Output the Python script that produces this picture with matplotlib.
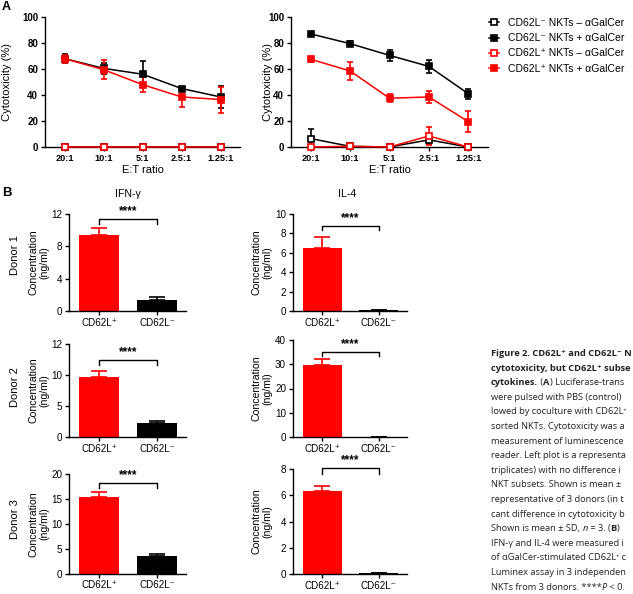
import numpy as np
import matplotlib.pyplot as plt
from matplotlib import font_manager

plt.rcParams['font.family'] = ['Liberation Sans', 'DejaVu Sans']

W, H = 633, 594
RED = '#ff0000'

# narrow face for the bar chart tick labels if it is there
try:
    font_manager.findfont('Liberation Sans Narrow', fallback_to_default=False)
    TICK_FAMILY, TICK_SIZE = ['Liberation Sans Narrow', 'DejaVu Sans'], 7.7
except ValueError:
    TICK_FAMILY, TICK_SIZE = ['Liberation Sans', 'DejaVu Sans'], 7.1

# ---- panel A: cytotoxicity vs E:T ratio
ratios = ['20:1', '10:1', '5:1', '2.5:1', '1.25:1']
series_labels = ['CD62L⁻ NKTs – αGalCer', 'CD62L⁻ NKTs + αGalCer',
                 'CD62L⁺ NKTs – αGalCer', 'CD62L⁺ NKTs + αGalCer']

# left plot (representative donor)
left_neg_ctrl = [0, 0, 0, 0, 0]
left_neg_ctrl_err = [0, 0, 0, 0, 0]
left_neg_agc = [68, 60.5, 56, 45, 38.5]
left_neg_agc_err = [3.5, 4, 10, 1.5, 8.5]
left_pos_ctrl = [0, 0, 0, 0, 0]
left_pos_ctrl_err = [0, 0, 0, 0, 0]
left_pos_agc = [68, 59.5, 48, 38.5, 36.5]
left_pos_agc_err = [3, 7.5, 6, 7.5, 10]

# right plot
right_neg_ctrl = [6.5, 0.5, 0, 5.5, 0]
right_neg_ctrl_err = [7, 0.5, 0, 3, 0]
right_neg_agc = [87, 79.5, 70.5, 62, 41]
right_neg_agc_err = [1, 2, 4, 5, 4]
right_pos_ctrl = [0, 0.5, 0, 8.5, 0]
right_pos_ctrl_err = [0, 0.5, 0, 7, 0]
right_pos_agc = [67.5, 58.5, 37.5, 38.5, 19.5]
right_pos_agc_err = [2, 7, 3, 4.5, 8]

# ---- panel B: cytokines
donors = ['Donor 1', 'Donor 2', 'Donor 3']
bar_labels = ['CD62L⁺', 'CD62L⁻']
ifng_means = [[9.4, 1.3], [9.7, 2.3], [15.4, 3.6]]
ifng_err = [[0.85, 0.4], [0.9, 0.3], [1.0, 0.25]]
il4_means = [[6.5, 0.08], [29.7, 0.15], [6.3, 0.05]]
il4_err = [[1.1, 0.03], [2.3, 0.05], [0.4, 0.02]]
ifng_ticks = [[0, 4, 8, 12], [0, 5, 10, 15], [0, 5, 10, 15, 20]]
ifng_ticklabels = [['0', '4', '8', '12'], ['0', '5', '10', '12'], ['0', '5', '10', '15', '20']]
il4_ticks = [[0, 2, 4, 6, 8, 10], [0, 10, 20, 30, 40], [0, 2, 4, 6, 8]]
ifng_sig = [11.4, 12.4, 18.2]
il4_sig = [8.8, 35.2, 8.05]

fig = plt.figure(figsize=(W / 100, H / 100), dpi=100)


def px_axes(x0, y_top, x1, y_bot):
    return fig.add_axes([x0 / W, 1 - y_bot / H, (x1 - x0) / W, (y_bot - y_top) / H])


def style(ax, size):
    for s in ['top', 'right']:
        ax.spines[s].set_visible(False)
    for s in ['left', 'bottom']:
        ax.spines[s].set_linewidth(1.0)
    ax.tick_params(length=3, width=1, labelsize=size, pad=2)


def cyto_panel(ax, data, label_x):
    x = np.arange(len(ratios))
    styles = [('black', 'white'), ('black', 'black'), (RED, 'white'), (RED, RED)]
    handles = []
    for (m, e), (c, fc) in zip(data, styles):
        ax.errorbar(x, m, yerr=e, fmt='none', ecolor=c, elinewidth=1.2, capsize=2.5, capthick=1.2)
        ln, = ax.plot(x, m, '-s', color=c, mfc=fc, mec=c, ms=4.5, mew=1.2, lw=1.1, clip_on=False, zorder=3)
        handles.append(ln)
    ax.set_xlim(-0.5, 4.5)
    ax.set_ylim(0, 100)
    ax.set_yticks([0, 20, 40, 60, 80, 100])
    ax.set_xticks(x)
    ax.set_xticklabels(ratios)
    style(ax, 6.6)
    ax.tick_params(axis='y', labelsize=7)
    for t in ax.get_xticklabels() + ax.get_yticklabels():
        t.set_fontweight('bold')
    ax.set_ylabel('Cytotoxicity (%)', fontsize=8)
    ax.yaxis.set_label_coords(label_x, 0.5)
    ax.set_xlabel('E:T ratio', fontsize=8)
    ax.xaxis.set_label_coords(0.5, -0.14)
    return handles


axL = px_axes(45, 17, 240, 147)
cyto_panel(axL, [(left_neg_ctrl, left_neg_ctrl_err), (left_neg_agc, left_neg_agc_err),
                 (left_pos_ctrl, left_pos_ctrl_err), (left_pos_agc, left_pos_agc_err)], -0.17)
axR = px_axes(291, 17, 488, 147)
hs = cyto_panel(axR, [(right_neg_ctrl, right_neg_ctrl_err), (right_neg_agc, right_neg_agc_err),
                      (right_pos_ctrl, right_pos_ctrl_err), (right_pos_agc, right_pos_agc_err)], -0.09)
fig.legend(hs, series_labels, loc='upper left', bbox_to_anchor=(489 / W, 1 - 18 / H),
           frameon=False, fontsize=7.5, handlelength=1.0, handletextpad=0.8,
           labelspacing=0.5, borderpad=0, borderaxespad=0)

fig.text(2 / W, 1 - 7 / H, 'A', fontsize=9, fontweight='bold', va='center', ha='left')
fig.text(2 / W, 1 - 193 / H, 'B', fontsize=9.5, fontweight='bold', va='center', ha='left')


def bar_panel(ax, means, errs, ticks, ticklabels, sig, label_x):
    x = np.arange(2)
    colors = [RED, 'black']
    ax.bar(x, means, width=0.69, color=colors, zorder=2)
    for xi, m, e, c in zip(x, means, errs, colors):
        ax.errorbar(xi, m, yerr=[[0], [e]], fmt='none', ecolor=c, elinewidth=1.2,
                    capsize=5.5, capthick=1.2, zorder=1)
    ax.set_xlim(-0.52, 1.5)
    ax.set_ylim(ticks[0], ticks[-1])
    ax.set_yticks(ticks)
    ax.set_yticklabels(ticklabels, family=TICK_FAMILY)
    ax.set_xticks(x)
    ax.set_xticklabels(bar_labels, family=TICK_FAMILY)
    style(ax, TICK_SIZE)
    top = ticks[-1]
    drop = 0.05 * top
    ax.plot([0, 0, 1, 1], [sig - drop, sig, sig, sig - drop], color='black', lw=1.0, clip_on=False)
    ax.text(0.5, sig + 0.02 * top, '****', ha='center', va='bottom', fontsize=8.5, fontweight='bold')
    ax.set_ylabel('Concentration\n(ng/ml)', fontsize=7.6, linespacing=1.1)
    ax.yaxis.set_label_coords(label_x, 0.5)


rows = [(214, 311, 214, 311), (344, 437, 340, 437), (474, 573.5, 469, 574)]
donor_y = [255, 387.5, 519.5]
for i, (lt, lb, rt, rb) in enumerate(rows):
    axl = px_axes(69, lt, 186, lb)
    bar_panel(axl, ifng_means[i], ifng_err[i], ifng_ticks[i], ifng_ticklabels[i], ifng_sig[i], -0.17)
    axr = px_axes(293, rt, 407, rb)
    bar_panel(axr, il4_means[i], il4_err[i], il4_ticks[i], [str(t) for t in il4_ticks[i]], il4_sig[i], -0.18)
    fig.text(15 / W, 1 - donor_y[i] / H, donors[i], rotation=90, fontsize=8, ha='center', va='center')

fig.text(127.5 / W, 1 - 194 / H, 'IFN-γ', fontsize=7.6, ha='center', va='center')
fig.text(347 / W, 1 - 194 / H, 'IL-4', fontsize=7.6, ha='center', va='center')

# ---- caption text at the right (cut by the page edge)
caption = [
    [('Figure 2. CD62L⁺ and CD62L⁻ N', 'bold', 'normal')],
    [('cytotoxicity, but CD62L⁺ subse', 'bold', 'normal')],
    [('cytokines.', 'bold', 'normal'), (' (', 'normal', 'normal'), ('A', 'bold', 'normal'),
     (') Luciferase-trans', 'normal', 'normal')],
    [('were pulsed with PBS (control) ', 'normal', 'normal')],
    [('lowed by coculture with CD62L⁺', 'normal', 'normal')],
    [('sorted NKTs. Cytotoxicity was a', 'normal', 'normal')],
    [('measurement of luminescence ', 'normal', 'normal')],
    [('reader. Left plot is a representa', 'normal', 'normal')],
    [('triplicates) with no difference i', 'normal', 'normal')],
    [('NKT subsets. Shown is mean ±', 'normal', 'normal')],
    [('representative of 3 donors (in t', 'normal', 'normal')],
    [('cant difference in cytotoxicity b', 'normal', 'normal')],
    [('Shown is mean ± SD, ', 'normal', 'normal'), ('n', 'normal', 'italic'),
     (' = 3. (', 'normal', 'normal'), ('B', 'bold', 'normal'), (') ', 'normal', 'normal')],
    [('IFN-γ and IL-4 were measured i', 'normal', 'normal')],
    [('of αGalCer-stimulated CD62L⁺ c', 'normal', 'normal')],
    [('Luminex assay in 3 independen', 'normal', 'normal')],
    [('NKTs from 3 donors. ****', 'normal', 'normal'), ('P', 'normal', 'italic'),
     (' < 0.', 'normal', 'normal')],
]

bg = fig.add_axes([0, 0, 1, 1], zorder=-1)
bg.axis('off')
bg.set_xlim(0, W)
bg.set_ylim(H, 0)
cap_font = ['Open Sans', 'DejaVu Sans']
for i, line in enumerate(caption):
    y = 358 + i * 14.6
    prev = None
    for s, wt, st in line:
        if prev is None:
            prev = bg.text(491, y, s, fontsize=6.7, fontweight=wt, fontstyle=st, family=cap_font,
                           color='#222222', ha='left', va='bottom')
        else:
            prev = bg.annotate(s, xy=(1, 0), xycoords=prev, fontsize=6.7, fontweight=wt,
                               fontstyle=st, family=cap_font, color='#222222',
                               ha='left', va='bottom')

fig.savefig('out.png', dpi=100)
